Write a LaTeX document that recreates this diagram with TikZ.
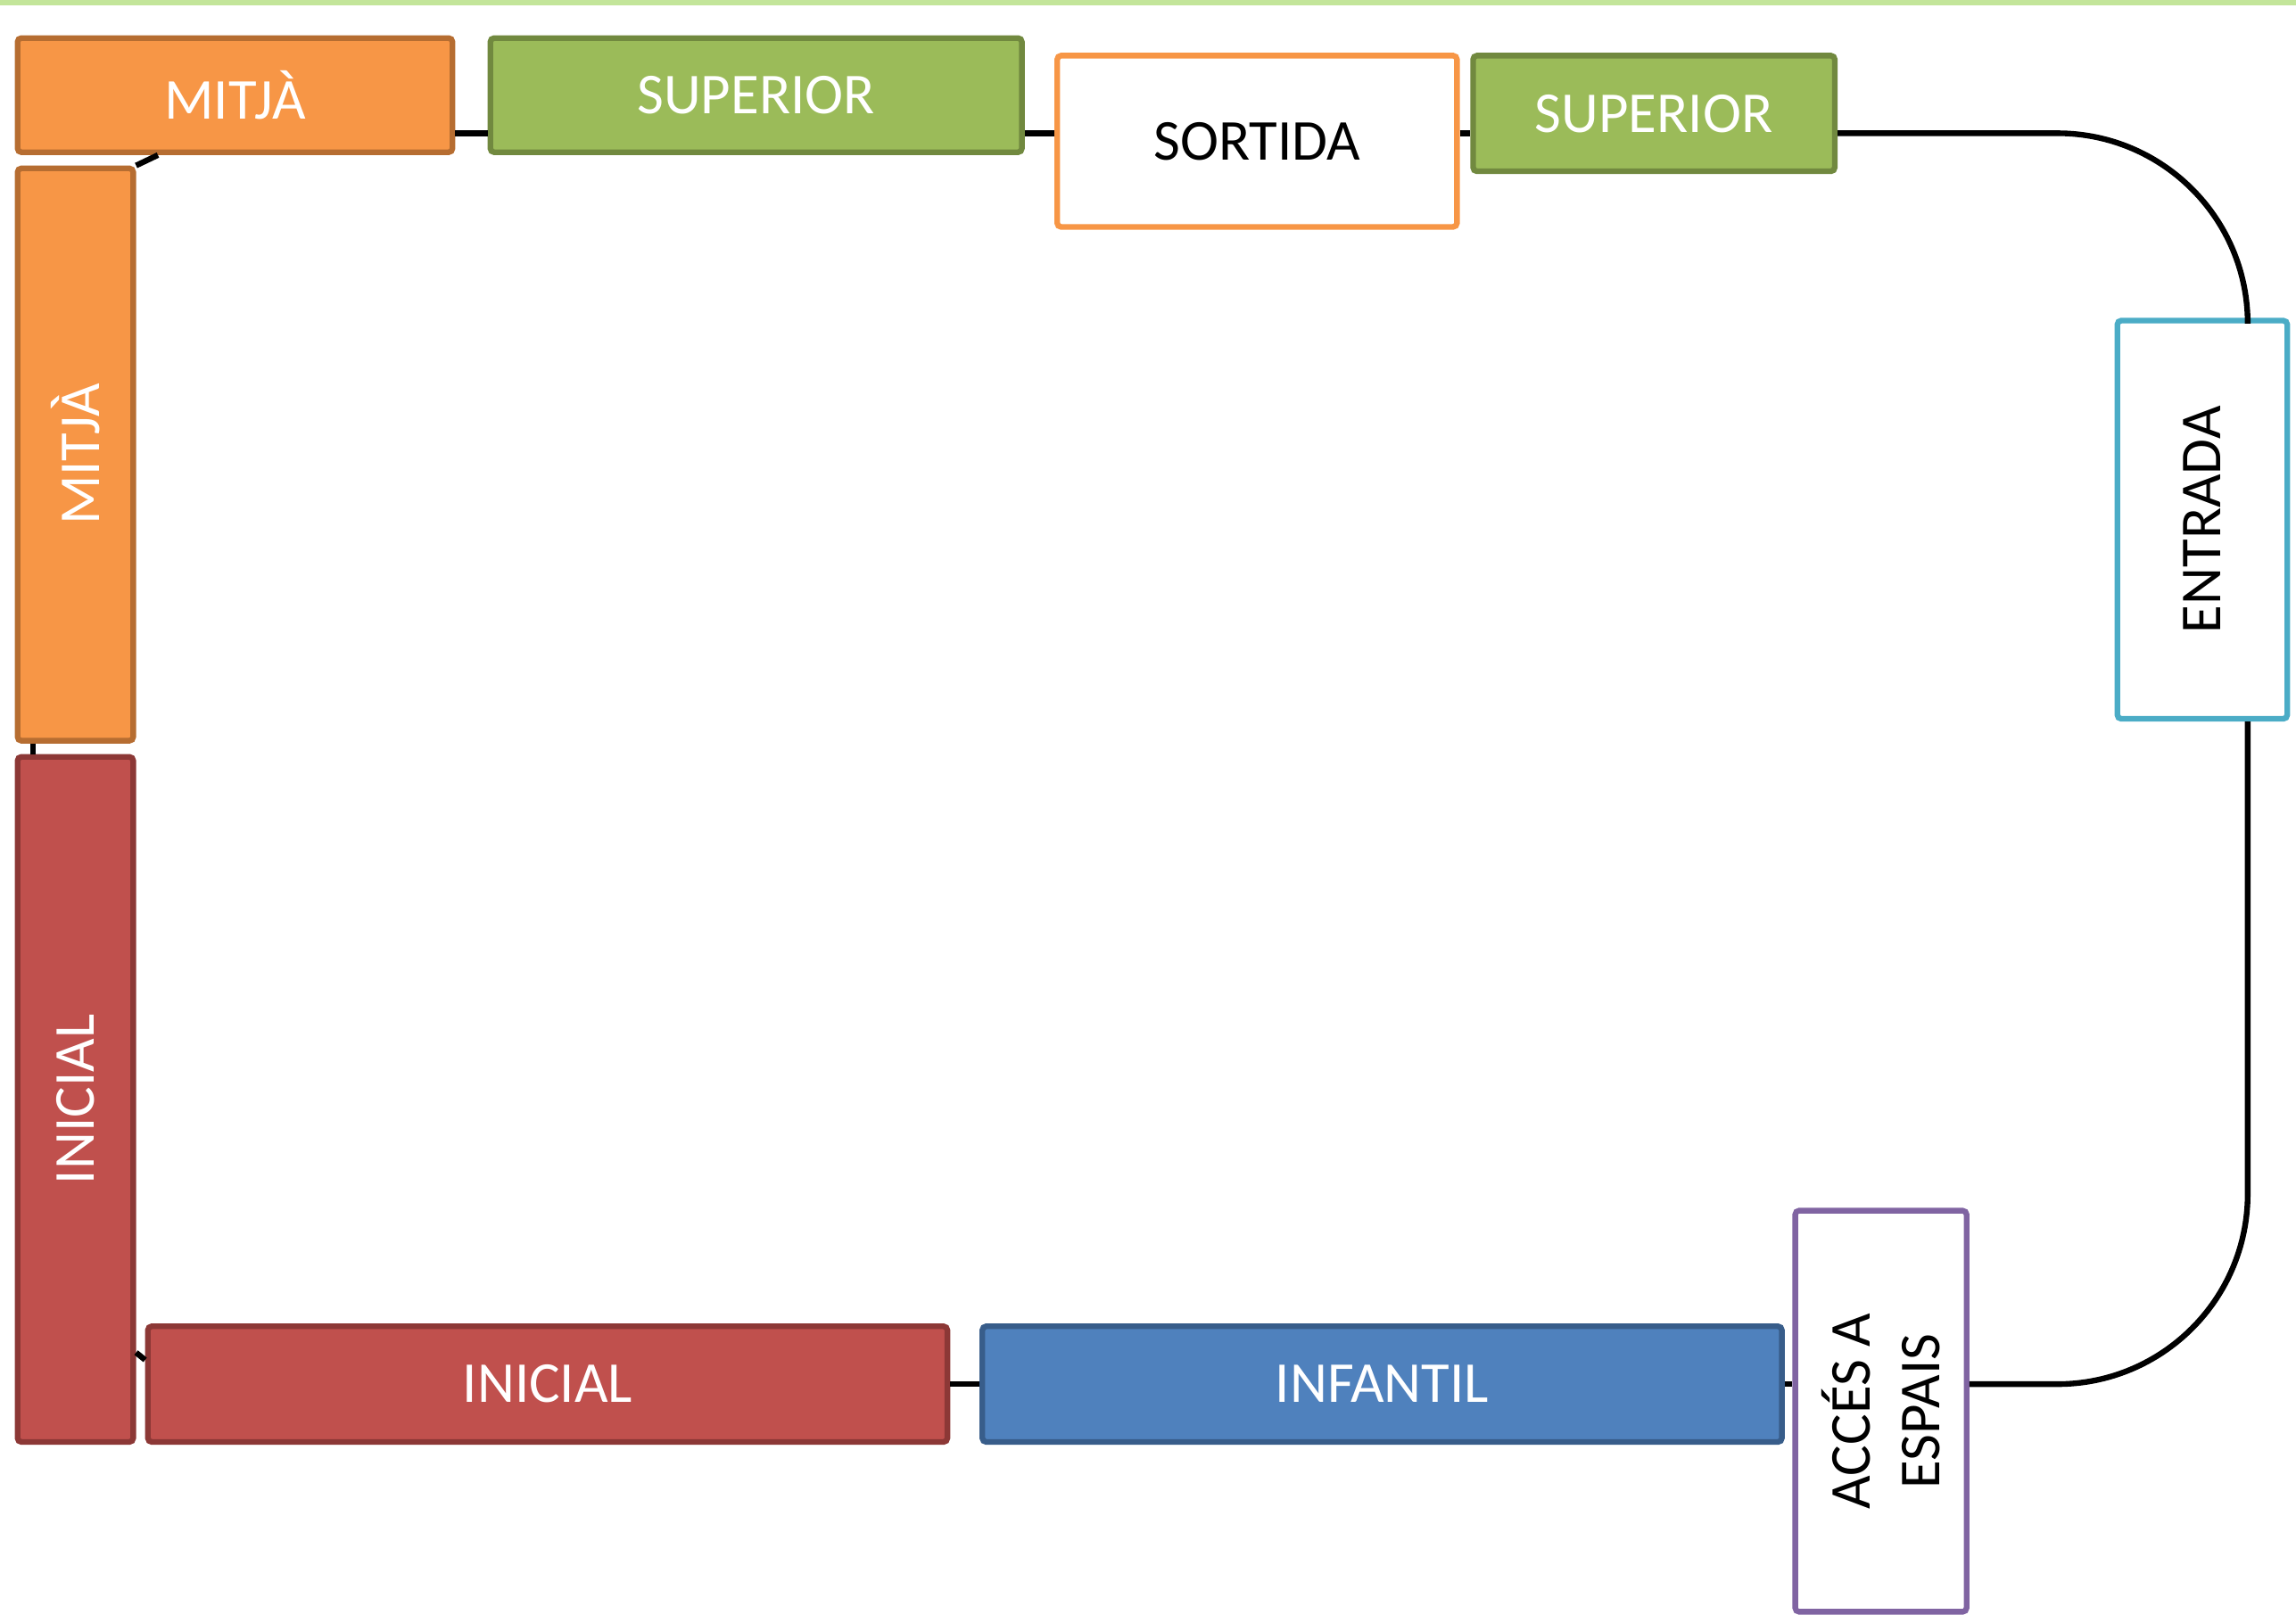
\documentclass[tikz,border=0pt]{standalone}
\usepackage{fontspec}
\setmainfont{Carlito}
\usetikzlibrary{positioning, calc}

\definecolor{orangefill}{HTML}{F79646}
\definecolor{orangeline}{HTML}{B66D31}
\definecolor{greenfill}{HTML}{9BBB59}
\definecolor{greenline}{HTML}{71893F}
\definecolor{redfill}{HTML}{C0504D}
\definecolor{redline}{HTML}{8C3836}
\definecolor{bluefill}{HTML}{4F81BD}
\definecolor{blueline}{HTML}{385D8A}
\definecolor{cyanline}{HTML}{4BACC6}
\definecolor{purpleline}{HTML}{8064A2}
\definecolor{barcolor}{HTML}{C3E59A}

\begin{document}
\begin{tikzpicture}[
    node distance=0.44cm,
    box/.style={draw, line width=2.2pt, rounded corners=1.5pt, align=center, inner sep=0pt, font=\fontsize{22.5}{27}\selectfont},
    mitja/.style={box, fill=orangefill, draw=orangeline, text=white},
    superior/.style={box, fill=greenfill, draw=greenline, text=white},
    inicial/.style={box, fill=redfill, draw=redline, text=white},
    infantil/.style={box, fill=bluefill, draw=blueline, text=white},
    open/.style={box, fill=white, text=black},
    link/.style={line width=2.2pt},
    topbar/.style={line width=2.5pt, draw=barcolor}
]

% Frame
\useasboundingbox (0,0) rectangle (31.36,-22.17);
\draw[topbar] (0,-0.03) -- (31.36,-0.03);

% Top row
\node[mitja, minimum width=5.94cm, minimum height=1.56cm] (mitjaH) at (3.21,-1.30) {MITJÀ};
\node[superior, minimum width=7.26cm, minimum height=1.56cm, right=of mitjaH] (sup1) {SUPERIOR};
\node[open, draw=orangefill, minimum width=5.46cm, minimum height=2.34cm] (sortida) at (17.17,-1.93) {SORTIDA};
\node[superior, minimum width=4.94cm, minimum height=1.58cm] (sup2) at (22.59,-1.55) {SUPERIOR};

% Right side
\node[open, draw=cyanline, rotate=90, minimum width=5.44cm, minimum height=2.32cm] (entrada) at (30.08,-7.10) {ENTRADA};
\node[open, draw=purpleline, rotate=90, minimum width=5.48cm, minimum height=2.34cm] (acces) at (25.69,-19.28) {ACCÉS A\\ESPAIS};

% Bottom row
\node[inicial, minimum width=10.92cm, minimum height=1.58cm] (inicialH) at (7.48,-18.91) {INICIAL};
\node[infantil, minimum width=10.92cm, minimum height=1.58cm, right=0.4cm of inicialH] (infantil) {INFANTIL};

% Left side
\node[inicial, rotate=90, minimum width=9.36cm, minimum height=1.58cm] (inicialV) at (1.03,-15.02) {INICIAL};
\node[mitja, rotate=90, minimum width=7.82cm, minimum height=1.58cm] (mitjaV) at (1.03,-6.21) {MITJÀ};

% Guide lines of the loop
\coordinate (topline) at (0,-1.82);
\coordinate (rightline) at (30.70,0);
\coordinate (leftline) at ($(mitjaV.north west)!0.15!(mitjaV.south west)$);

% Connections
\draw[link] (mitjaV.south east) -- ($(mitjaH.south west)!0.65!(mitjaH.south)$);
\draw[link] (mitjaH.east |- topline) -- (sup1.west |- topline);
\draw[link] (sup1.east |- topline) -- (sortida.west |- topline);
\draw[link] (sortida.east |- topline) -- (sup2.west |- topline);
\draw[link, rounded corners=2.6cm] (sup2.east |- topline) -| (rightline |- entrada.east);
\draw[link, rounded corners=2.6cm] (rightline |- entrada.west) |- (acces.south |- infantil.east);
\draw[link] (infantil.east) -- (acces.north |- infantil.east);
\draw[link] (inicialH) -- (infantil);
\draw[link] ($(inicialV.south west)+(0,1.26)$) -- ($(inicialH.north west)!0.3!(inicialH.south west)$);
\draw[link] (leftline) -- (leftline |- inicialV.east);

\end{tikzpicture}
\end{document}
